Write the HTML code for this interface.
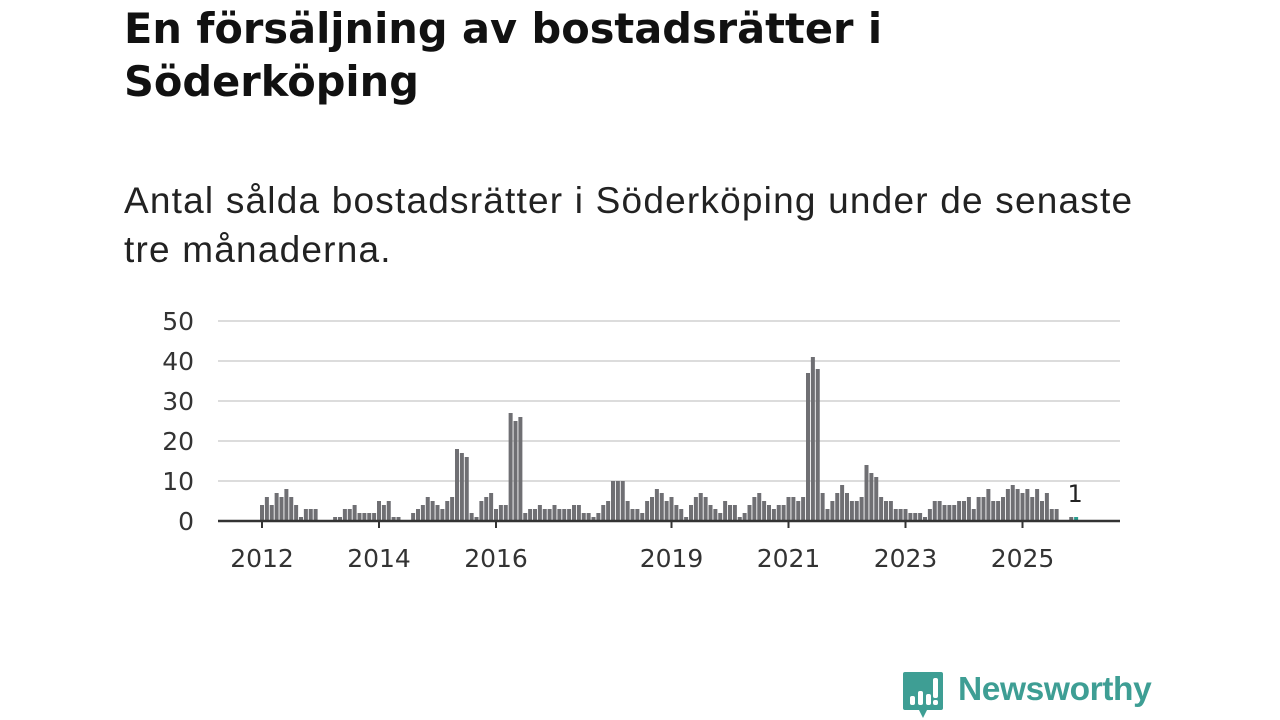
<!DOCTYPE html>
<html><head><meta charset="utf-8">
<style>
body{margin:0;width:1280px;height:720px;background:#fff;font-family:"Liberation Sans",sans-serif;overflow:hidden;position:relative}
h1{position:absolute;left:124px;top:2px;margin:0;font-family:"DejaVu Sans",sans-serif;font-size:41.5px;line-height:53px;font-weight:bold;color:#111;white-space:nowrap}
.sub{position:absolute;left:124px;top:176px;margin:0;font-size:37px;letter-spacing:1.2px;line-height:49px;color:#222;white-space:nowrap}
svg{position:absolute;left:0;top:0}
</style></head><body>
<h1>En försäljning av bostadsrätter i<br>Söderköping</h1>
<p class="sub">Antal sålda bostadsrätter i Söderköping under de senaste<br>tre månaderna.</p>
<svg id="chart" width="1280" height="720"></svg>
<script>
const startYear = 2012;
const values = [
4,6,4,7,6,8,6,4,1,3,3,3,
0,0,0,1,1,3,3,4,2,2,2,2,
5,4,5,1,1,0,0,2,3,4,6,5,
4,3,5,6,18,17,16,2,1,5,6,7,
3,4,4,27,25,26,2,3,3,4,3,3,
4,3,3,3,4,4,2,2,1,2,4,5,
10,10,10,5,3,3,2,5,6,8,7,5,
6,4,3,1,4,6,7,6,4,3,2,5,
4,4,1,2,4,6,7,5,4,3,4,4,
6,6,5,6,37,41,38,7,3,5,7,9,
7,5,5,6,14,12,11,6,5,5,3,3,
3,2,2,2,1,3,5,5,4,4,4,5,
5,6,3,6,6,8,5,5,6,8,9,8,
7,8,6,8,5,7,3,3,0,0,1,1];
const yTicks = [0,10,20,30,40,50];
const xTickYears = [2012,2014,2016,2019,2021,2023,2025];
const NS='http://www.w3.org/2000/svg';
const svg=document.getElementById('chart');
const x0=262, pxMonth=4.875, yBase=521, pxUnit=4, left=218, right=1120;
const FONT='DejaVu Sans, sans-serif';
const X=m=>x0+pxMonth*m;
const Y=v=>yBase-v*pxUnit;
function mk(t,a){const e=document.createElementNS(NS,t);for(const k in a)e.setAttribute(k,a[k]);svg.appendChild(e);return e;}
yTicks.forEach(v=>{
  if(v>0){const g=mk('line',{x1:left,x2:right,y1:Y(v),y2:Y(v),stroke:'#dcdcdc','stroke-width':2});
  
  }
  const t=mk('text',{x:194,y:Y(v)+9,'text-anchor':'end','font-size':25,fill:'#333','font-family':FONT});
  t.textContent=v;
  
  
});
values.forEach((v,i)=>{
  const last=i===values.length-1;
  const r=mk('rect',{x:X(i)-2,y:Y(v),width:4,height:v*pxUnit,fill:last?'#2a9d8f':'#6f6f73'});
  
  
});
const lastI=values.length-1;
const lbl=mk('text',{x:X(lastI)-1,y:Y(values[lastI])-15,'text-anchor':'middle','font-size':24,fill:'#222','font-family':FONT});
lbl.textContent=values[lastI];


const ax=mk('line',{x1:left,x2:right,y1:yBase,y2:yBase,stroke:'#333','stroke-width':2.5});


xTickYears.forEach(yr=>{
  const m=(yr-startYear)*12;
  const tk=mk('line',{x1:X(m),x2:X(m),y1:yBase,y2:yBase+7,stroke:'#333','stroke-width':2});
  
  
  const t=mk('text',{x:X(m),y:567,'text-anchor':'middle','font-size':25,fill:'#333','font-family':FONT});
  t.textContent=yr;
  
  
});
</script>
<div style="position:absolute;left:903px;top:672px;width:260px;height:48px">
<svg width="42" height="48" style="left:0;top:0">
<path d="M2 0 H38 Q40 0 40 2 V36 Q40 38 38 38 H24 L20 46 L16 38 H2 Q0 38 0 36 V2 Q0 0 2 0Z" fill="#3e9e94"/>
<rect x="7" y="24" width="5" height="9" rx="2" fill="#fff"/>
<rect x="15" y="19" width="5" height="14" rx="2" fill="#fff"/>
<rect x="23" y="22" width="5" height="11" rx="2" fill="#fff"/>
<rect x="30" y="6" width="5" height="20" rx="2" fill="#fff"/>
<rect x="30" y="28" width="5" height="5" rx="2" fill="#fff"/>
</svg>
<span style="position:absolute;left:55px;top:-1px;font-size:33.5px;color:#3e9e94;font-weight:bold;letter-spacing:-0.4px">Newsworthy</span>
</div>
</body></html>
